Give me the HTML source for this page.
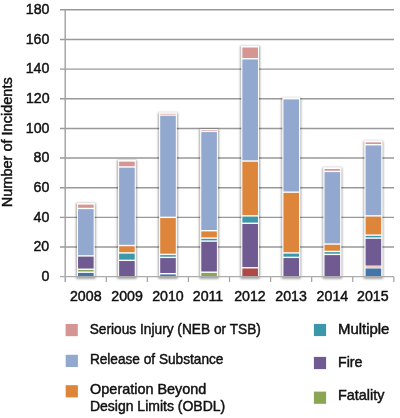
<!DOCTYPE html><html><head><meta charset="utf-8"><style>html,body{margin:0;padding:0;background:#fff;}svg{display:block;will-change:transform;}text{font-family:"Liberation Sans",sans-serif;fill:#111;stroke:#111;stroke-width:0.45px;}</style></head><body>
<svg width="400" height="418" viewBox="0 0 400 418">
<defs><filter id="sh" x="-50%" y="-10%" width="200%" height="130%"><feMorphology in="SourceAlpha" operator="dilate" radius="0.5"/><feGaussianBlur stdDeviation="0.9"/><feOffset dx="0" dy="1.4" result="b"/><feComponentTransfer><feFuncA type="linear" slope="0.38"/></feComponentTransfer><feMerge><feMergeNode/><feMergeNode in="SourceGraphic"/></feMerge></filter></defs>
<line x1="60" y1="247.00" x2="394" y2="247.00" stroke="#999999" stroke-width="1.45"/>
<line x1="60" y1="217.36" x2="394" y2="217.36" stroke="#999999" stroke-width="1.45"/>
<line x1="60" y1="187.71" x2="394" y2="187.71" stroke="#999999" stroke-width="1.45"/>
<line x1="60" y1="158.06" x2="394" y2="158.06" stroke="#999999" stroke-width="1.45"/>
<line x1="60" y1="128.41" x2="394" y2="128.41" stroke="#999999" stroke-width="1.45"/>
<line x1="60" y1="98.77" x2="394" y2="98.77" stroke="#999999" stroke-width="1.45"/>
<line x1="60" y1="69.12" x2="394" y2="69.12" stroke="#999999" stroke-width="1.45"/>
<line x1="60" y1="39.47" x2="394" y2="39.47" stroke="#999999" stroke-width="1.45"/>
<line x1="60" y1="9.83" x2="394" y2="9.83" stroke="#999999" stroke-width="1.45"/>
<line x1="65.2" y1="9.1" x2="65.2" y2="281.9" stroke="#a0a0a0" stroke-width="1.4"/>
<line x1="106.28" y1="276.65" x2="106.28" y2="281.9" stroke="#a0a0a0" stroke-width="1.2"/>
<line x1="147.36" y1="276.65" x2="147.36" y2="281.9" stroke="#a0a0a0" stroke-width="1.2"/>
<line x1="188.44" y1="276.65" x2="188.44" y2="281.9" stroke="#a0a0a0" stroke-width="1.2"/>
<line x1="229.52" y1="276.65" x2="229.52" y2="281.9" stroke="#a0a0a0" stroke-width="1.2"/>
<line x1="270.60" y1="276.65" x2="270.60" y2="281.9" stroke="#a0a0a0" stroke-width="1.2"/>
<line x1="311.68" y1="276.65" x2="311.68" y2="281.9" stroke="#a0a0a0" stroke-width="1.2"/>
<line x1="352.76" y1="276.65" x2="352.76" y2="281.9" stroke="#a0a0a0" stroke-width="1.2"/>
<line x1="393.84" y1="276.65" x2="393.84" y2="281.9" stroke="#a0a0a0" stroke-width="1.2"/>
<text x="49.50" y="280.85" font-size="14.2" text-anchor="end">0</text>
<text x="49.22" y="251.20" font-size="14.2" text-anchor="end">20</text>
<text x="49.30" y="221.56" font-size="14.2" text-anchor="end">40</text>
<text x="49.30" y="191.91" font-size="14.2" text-anchor="end">60</text>
<text x="49.30" y="162.26" font-size="14.2" text-anchor="end">80</text>
<text x="49.51" y="132.61" font-size="14.2" text-anchor="end">100</text>
<text x="49.61" y="102.97" font-size="14.2" text-anchor="end">120</text>
<text x="49.30" y="73.32" font-size="14.2" text-anchor="end">140</text>
<text x="49.30" y="43.67" font-size="14.2" text-anchor="end">160</text>
<text x="49.44" y="14.03" font-size="14.2" text-anchor="end">180</text>
<text x="85.78" y="300.80" font-size="14.2" text-anchor="middle">2008</text>
<text x="127.04" y="300.80" font-size="14.2" text-anchor="middle">2009</text>
<text x="167.99" y="300.80" font-size="14.2" text-anchor="middle">2010</text>
<text x="208.02" y="300.80" font-size="14.2" text-anchor="middle">2011</text>
<text x="249.92" y="300.80" font-size="14.2" text-anchor="middle">2012</text>
<text x="291.10" y="300.80" font-size="14.2" text-anchor="middle">2013</text>
<text x="332.40" y="300.80" font-size="14.2" text-anchor="middle">2014</text>
<text x="372.89" y="300.80" font-size="14.2" text-anchor="middle">2015</text>
<text transform="translate(12.30,142.29) rotate(-90)" font-size="14.2" text-anchor="middle" textLength="129.92" lengthAdjust="spacingAndGlyphs">Number of Incidents</text>
<g filter="url(#sh)">
<rect x="77.04" y="203.11" width="17.60" height="73.54" fill="#fff"/>
<rect x="78.04" y="272.90" width="15.6" height="3.75" fill="#4474a8"/>
<rect x="78.04" y="269.94" width="15.6" height="1.56" fill="#8ca552"/>
<rect x="78.04" y="256.60" width="15.6" height="11.94" fill="#705a92"/>
<rect x="78.04" y="209.16" width="15.6" height="46.04" fill="#93a8cf"/>
<rect x="78.04" y="204.61" width="15.6" height="3.15" fill="#d49593"/>
</g>
<g filter="url(#sh)">
<rect x="118.12" y="160.13" width="17.60" height="116.52" fill="#fff"/>
<rect x="119.12" y="261.04" width="15.6" height="15.61" fill="#705a92"/>
<rect x="119.12" y="253.63" width="15.6" height="6.01" fill="#3b97aa"/>
<rect x="119.12" y="246.22" width="15.6" height="6.01" fill="#dd863b"/>
<rect x="119.12" y="167.66" width="15.6" height="77.16" fill="#93a8cf"/>
<rect x="119.12" y="161.63" width="15.6" height="4.63" fill="#d49593"/>
</g>
<g filter="url(#sh)">
<rect x="159.20" y="112.69" width="17.60" height="163.96" fill="#fff"/>
<rect x="160.20" y="274.39" width="15.6" height="2.26" fill="#4474a8"/>
<rect x="160.20" y="258.08" width="15.6" height="14.91" fill="#705a92"/>
<rect x="160.20" y="255.11" width="15.6" height="1.56" fill="#3b97aa"/>
<rect x="160.20" y="218.06" width="15.6" height="35.66" fill="#dd863b"/>
<rect x="160.20" y="115.77" width="15.6" height="100.88" fill="#93a8cf"/>
<rect x="160.20" y="114.19" width="15.6" height="0.18" fill="#d49593"/>
</g>
<rect x="160.20" y="113.77" width="15.60" height="1" fill="#e6b9b7"/>
<g filter="url(#sh)">
<rect x="200.28" y="129.00" width="17.60" height="147.65" fill="#fff"/>
<rect x="201.28" y="272.90" width="15.6" height="3.75" fill="#8ca552"/>
<rect x="201.28" y="241.77" width="15.6" height="29.73" fill="#705a92"/>
<rect x="201.28" y="238.81" width="15.6" height="1.56" fill="#3b97aa"/>
<rect x="201.28" y="231.40" width="15.6" height="6.01" fill="#dd863b"/>
<rect x="201.28" y="132.08" width="15.6" height="97.92" fill="#93a8cf"/>
<rect x="201.28" y="130.50" width="15.6" height="0.18" fill="#d49593"/>
</g>
<rect x="201.28" y="130.08" width="15.60" height="1" fill="#e6b9b7"/>
<g filter="url(#sh)">
<rect x="241.36" y="45.99" width="17.60" height="230.66" fill="#fff"/>
<rect x="242.36" y="268.46" width="15.6" height="8.19" fill="#b04845"/>
<rect x="242.36" y="223.99" width="15.6" height="43.07" fill="#705a92"/>
<rect x="242.36" y="216.57" width="15.6" height="6.01" fill="#3b97aa"/>
<rect x="242.36" y="161.73" width="15.6" height="53.45" fill="#dd863b"/>
<rect x="242.36" y="59.44" width="15.6" height="100.88" fill="#93a8cf"/>
<rect x="242.36" y="47.49" width="15.6" height="10.56" fill="#d49593"/>
</g>
<g filter="url(#sh)">
<rect x="282.44" y="97.87" width="17.60" height="178.78" fill="#fff"/>
<rect x="283.44" y="258.08" width="15.6" height="18.57" fill="#705a92"/>
<rect x="283.44" y="253.63" width="15.6" height="3.05" fill="#3b97aa"/>
<rect x="283.44" y="192.86" width="15.6" height="59.38" fill="#dd863b"/>
<rect x="283.44" y="99.37" width="15.6" height="92.09" fill="#93a8cf"/>
</g>
<g filter="url(#sh)">
<rect x="323.52" y="167.54" width="17.60" height="109.11" fill="#fff"/>
<rect x="324.52" y="255.11" width="15.6" height="21.54" fill="#705a92"/>
<rect x="324.52" y="252.15" width="15.6" height="1.56" fill="#3b97aa"/>
<rect x="324.52" y="244.74" width="15.6" height="6.01" fill="#dd863b"/>
<rect x="324.52" y="172.10" width="15.6" height="71.24" fill="#93a8cf"/>
<rect x="324.52" y="169.04" width="15.6" height="1.66" fill="#d49593"/>
</g>
<g filter="url(#sh)">
<rect x="364.60" y="140.86" width="17.60" height="135.79" fill="#fff"/>
<rect x="365.60" y="268.46" width="15.6" height="8.19" fill="#4474a8"/>
<rect x="365.60" y="266.97" width="15.6" height="0.08" fill="#b04845"/>
<rect x="365.60" y="238.81" width="15.6" height="26.76" fill="#705a92"/>
<rect x="365.60" y="235.84" width="15.6" height="1.56" fill="#3b97aa"/>
<rect x="365.60" y="216.57" width="15.6" height="17.87" fill="#dd863b"/>
<rect x="365.60" y="145.42" width="15.6" height="69.75" fill="#93a8cf"/>
<rect x="365.60" y="142.36" width="15.6" height="1.66" fill="#d49593"/>
</g>
<rect x="365.60" y="266.46" width="15.60" height="1" fill="#eea88c"/>
<line x1="60" y1="276.65" x2="394" y2="276.65" stroke="#ababab" stroke-width="1.3"/>
<rect x="65.6" y="324.0" width="12.2" height="12.2" fill="#d49593"/>
<rect x="65.7" y="354.8" width="12.2" height="12.2" fill="#93a8cf"/>
<rect x="65.7" y="385.2" width="12.2" height="12.2" fill="#dd863b"/>
<rect x="313.9" y="323.9" width="12.2" height="12.2" fill="#3b97aa"/>
<rect x="313.9" y="356.9" width="12.2" height="12.2" fill="#705a92"/>
<rect x="313.9" y="391.6" width="12.2" height="12.2" fill="#8ca552"/>
<text x="89.73" y="334.00" font-size="14.2" textLength="171.22" lengthAdjust="spacingAndGlyphs">Serious Injury (NEB or TSB)</text>
<text x="89.89" y="364.20" font-size="14.2" textLength="133.55" lengthAdjust="spacingAndGlyphs">Release of Substance</text>
<text x="90.14" y="394.20" font-size="14.2" textLength="116.26" lengthAdjust="spacingAndGlyphs">Operation Beyond</text>
<text x="89.90" y="410.90" font-size="14.2" textLength="135.39" lengthAdjust="spacingAndGlyphs">Design Limits (OBDL)</text>
<text x="337.94" y="333.80" font-size="14.2" textLength="51.50" lengthAdjust="spacingAndGlyphs">Multiple</text>
<text x="338.07" y="366.50" font-size="14.2" textLength="24.38" lengthAdjust="spacingAndGlyphs">Fire</text>
<text x="338.06" y="400.20" font-size="14.2" textLength="46.37" lengthAdjust="spacingAndGlyphs">Fatality</text>
</svg></body></html>
